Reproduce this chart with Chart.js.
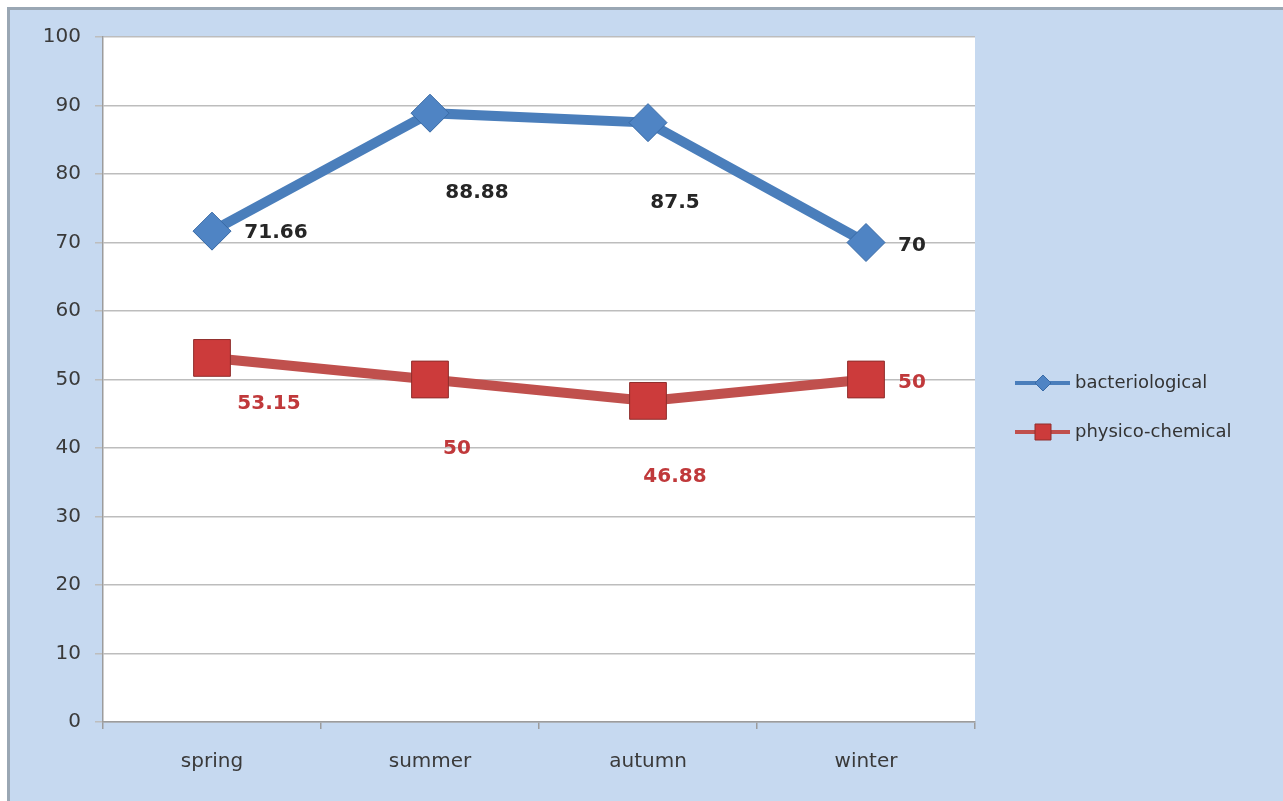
<!DOCTYPE html>
<html>
<head>
<meta charset="utf-8">
<script src="https://cdn.jsdelivr.net/npm/chart.js@4.4.0/dist/chart.umd.min.js"></script>
<style>
  html, body { margin: 0; padding: 0; background: #ffffff; }
  #wrap {
    position: absolute; left: 7px; top: 7px;
    width: 1276px; height: 794px;
    border-left: 3px solid #9aa7b4; border-top: 3px solid #9aa7b4;
    background: #c6d9f0;
  }
  canvas { display: block; }
</style>
</head>
<body>
<div id="wrap"><canvas id="mycanvas" width="1276" height="794"></canvas></div>
<script>
var seasons = ['spring', 'summer', 'autumn', 'winter'];
var bacteriological = [71.66, 88.88, 87.5, 70];
var physicoChemical = [53.15, 50, 46.88, 50];
var yTicks = [0, 10, 20, 30, 40, 50, 60, 70, 80, 90, 100];

// where each value label sits relative to its point (moved by hand in the original)
var labelShift = {
  0: { dx: [64, 47, 27, 46], dy: [2, 80, 80, 3], color: '#262626' },
  1: { dx: [57, 27, 27, 46], dy: [46, 69, 76, 3], color: '#c0393b' }
};

var font = 'DejaVu Sans';

var valueLabels = {
  id: 'valueLabels',
  afterDatasetsDraw: function(chart) {
    var ctx = chart.ctx;
    ctx.save();
    ctx.font = 'bold 20px ' + font;
    ctx.textAlign = 'center';
    ctx.textBaseline = 'middle';
    chart.data.datasets.forEach(function(ds, i) {
      var meta = chart.getDatasetMeta(i);
      var s = labelShift[i];
      ctx.fillStyle = s.color;
      meta.data.forEach(function(pt, j) {
        ctx.fillText(String(ds.data[j]), pt.x + s.dx[j], pt.y + s.dy[j]);
      });
    });
    ctx.restore();
  }
};

// legend on the right: line with marker, then text
var sideLegend = {
  id: 'sideLegend',
  afterDraw: function(chart) {
    var ctx = chart.ctx;
    var x0 = 1005, rows = [373, 422];
    ctx.save();
    chart.data.datasets.forEach(function(ds, i) {
      var y = rows[i];
      ctx.strokeStyle = ds.borderColor;
      ctx.lineWidth = 4;
      ctx.beginPath();
      ctx.moveTo(x0, y);
      ctx.lineTo(x0 + 55, y);
      ctx.stroke();
      ctx.fillStyle = ds.pointBackgroundColor;
      ctx.strokeStyle = ds.pointBorderColor;
      ctx.lineWidth = 1;
      ctx.beginPath();
      if (i === 0) {
        ctx.moveTo(x0 + 28, y - 8); ctx.lineTo(x0 + 36, y);
        ctx.lineTo(x0 + 28, y + 8); ctx.lineTo(x0 + 20, y);
        ctx.closePath();
      } else {
        ctx.rect(x0 + 20, y - 8, 16, 16);
      }
      ctx.fill();
      ctx.stroke();
      ctx.fillStyle = '#333333';
      ctx.font = '18px ' + font;
      ctx.textAlign = 'left';
      ctx.textBaseline = 'middle';
      ctx.fillText(ds.label, x0 + 60, y);
    });
    ctx.restore();
  }
};

var plotBg = {
  id: 'plotBg',
  beforeDraw: function(chart) {
    var a = chart.chartArea, ctx = chart.ctx;
    ctx.save();
    ctx.fillStyle = '#ffffff';
    ctx.fillRect(a.left, a.top, a.right - a.left, a.bottom - a.top);
    ctx.restore();
  }
};

var chartdata = {
  labels: seasons,
  datasets: [
    {
      label: 'bacteriological',
      data: bacteriological,
      borderColor: '#4a7ebb',
      backgroundColor: '#4a7ebb',
      pointBackgroundColor: '#4f84c4',
      pointBorderColor: '#386aa6',
      borderWidth: 10,
      pointStyle: 'rectRot',
      pointRadius: 19,
      pointHoverRadius: 19,
      pointBorderWidth: 1
    },
    {
      label: 'physico-chemical',
      data: physicoChemical,
      borderColor: '#c0504d',
      backgroundColor: '#c0504d',
      pointBackgroundColor: '#cc3b3b',
      pointBorderColor: '#8f2e2c',
      borderWidth: 10,
      pointStyle: 'rect',
      pointRadius: 26,
      pointHoverRadius: 26,
      pointBorderWidth: 1
    }
  ]
};

var ctx = document.getElementById('mycanvas');

var lineGraph = new Chart(ctx, {
  type: 'line',
  data: chartdata,
  plugins: [plotBg, valueLabels, sideLegend],
  options: {
    responsive: false,
    animation: false,
    layout: { padding: { top: 27, right: 311, left: 0, bottom: 0 } },
    plugins: {
      legend: { display: false },
      tooltip: { enabled: false }
    },
    scales: {
      x: {
        offset: true,
        afterFit: function(scale) { scale.height = 82; },
        grid: {
          offset: true,
          drawOnChartArea: false,
          drawTicks: true,
          tickLength: 7,
          color: '#9c9c9c',
          lineWidth: 1.5
        },
        border: { color: '#9c9c9c', width: 1.5 },
        ticks: {
          color: '#3a3a3a',
          font: { family: font, size: 20 },
          padding: 21
        }
      },
      y: {
        min: 0,
        max: 100,
        afterFit: function(scale) { scale.width = 93; },
        afterBuildTicks: function(scale) {
          scale.ticks = yTicks.map(function(v) { return { value: v }; });
        },
        grid: {
          color: '#bdbdbd',
          lineWidth: 1.5,
          tickLength: 8
        },
        border: { color: '#9c9c9c', width: 1.5 },
        ticks: {
          color: '#3a3a3a',
          font: { family: font, size: 20 },
          padding: 14
        }
      }
    }
  }
});
</script>
</body>
</html>
